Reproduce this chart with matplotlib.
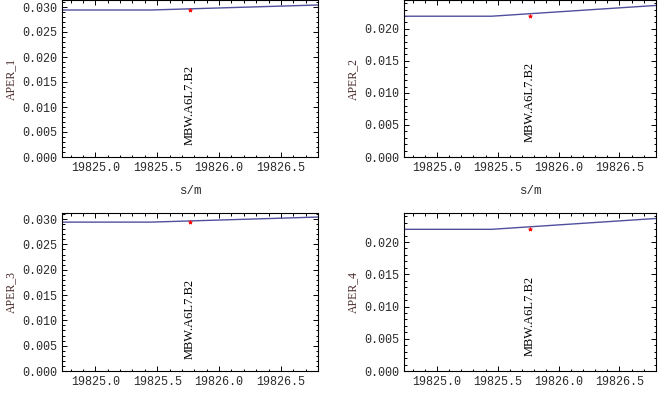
import numpy as np
import matplotlib
matplotlib.use('Agg')
import matplotlib.pyplot as plt
from matplotlib.ticker import MultipleLocator, FuncFormatter

# aperture data around MBW.A6L7.B2
s_pos = [19824.73, 19825.45, 19826.80]
aper_1 = [0.02940, 0.02940, 0.03040]
aper_2 = [0.02197, 0.02197, 0.02365]
aper_3 = [0.02940, 0.02940, 0.03040]
aper_4 = [0.02197, 0.02197, 0.02365]

elem_name = 'MBW.A6L7.B2'
elem_s = 19825.765
elem_aper = [0.02935, 0.02200, 0.02935, 0.02200]

ylabels = ['APER_1', 'APER_2', 'APER_3', 'APER_4']
ymax = [0.0314, 0.0245, 0.0312, 0.0245]

line_col = '#4f4f9c'
text_col = '#2a2a2a'

# axes boxes in pixel coords (left, top, right, bottom) of a 664x411 canvas
W, H = 664, 411
boxes = [(62, 0, 318, 157), (404, 0, 656, 157),
         (62, 213, 318, 371), (404, 213, 656, 371)]
series = [aper_1, aper_2, aper_3, aper_4]

mono = ['Liberation Mono', 'DejaVu Sans Mono']

fig = plt.figure(figsize=(W / 100, H / 100), dpi=100)

for i in range(4):
    l, t, r, b = boxes[i]
    ax = fig.add_axes([l / W, 1 - b / H, (r - l) / W, (b - t) / H])
    ax.plot(s_pos, series[i], '-', color=line_col, linewidth=1.0)
    ax.plot([elem_s], [elem_aper[i]], '*', color='red', markersize=3, markeredgewidth=0.5)
    ax.text(elem_s, 0.0024, elem_name, rotation=90, ha='center', va='bottom',
            fontsize=9, family='Liberation Serif', color='black')

    ax.set_xlim(s_pos[0], s_pos[-1])
    ax.set_ylim(0, ymax[i])
    ax.xaxis.set_major_locator(MultipleLocator(0.5))
    ax.xaxis.set_minor_locator(MultipleLocator(0.1))
    ax.yaxis.set_major_locator(MultipleLocator(0.005))
    ax.yaxis.set_minor_locator(MultipleLocator(0.001))
    ax.xaxis.set_major_formatter(FuncFormatter(lambda v, p: '%.1f' % v))
    ax.yaxis.set_major_formatter(FuncFormatter(lambda v, p: '%.3f' % v))

    ax.tick_params(which='both', direction='in', top=True, right=True,
                   labelsize=8.5, labelcolor=text_col, width=0.7)
    ax.tick_params(which='major', length=3.5)
    ax.tick_params(which='minor', length=1.8)
    for lab in ax.get_xticklabels() + ax.get_yticklabels():
        lab.set_family(mono)
    for sp in ax.spines.values():
        sp.set_linewidth(0.8)

    ax.set_ylabel(ylabels[i], family='Liberation Serif', fontsize=8.5, color='#4a2a2a')
    if i < 2:
        ax.set_xlabel('s/m', family=mono, fontsize=9, color=text_col, labelpad=8)

fig.savefig('out.png', dpi=100)
